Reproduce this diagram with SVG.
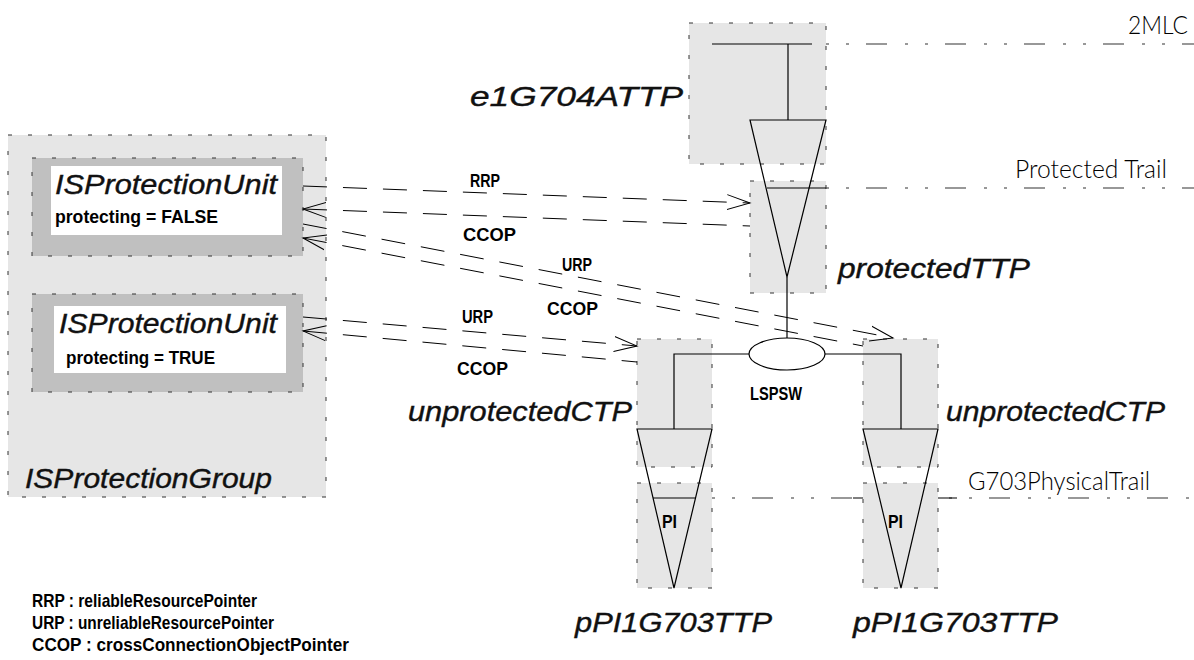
<svg xmlns="http://www.w3.org/2000/svg" width="1194" height="660" viewBox="0 0 1194 660">
<style>
.bg{fill:#e6e6e6;stroke:#333;stroke-width:1;stroke-dasharray:4 16}
.ub{fill:#c0c0c0;stroke:#333;stroke-width:1;stroke-dasharray:4 16}
.ln{fill:none;stroke:#000;stroke-width:1.2}
.trail{fill:none;stroke:#333;stroke-width:1.2;stroke-dasharray:3 17 3 17 21 18}
.con{fill:none;stroke:#000;stroke-width:1;stroke-dasharray:24 16}
.it{font-family:"Liberation Sans",Arial,sans-serif;font-style:italic;font-size:28px;fill:#111;stroke:#111;stroke-width:0.4}
.bd{font-family:"Liberation Sans",Arial,sans-serif;font-weight:bold;font-size:19px;fill:#000}
.th{font-family:Lato,"Liberation Sans",Arial,sans-serif;font-weight:300;font-size:26px;fill:#000}
</style>
<defs>
<marker id="arr" markerUnits="userSpaceOnUse" markerWidth="26" markerHeight="20" refX="23" refY="9" orient="auto-start-reverse">
<path d="M0,1.5 L23,9 L0,16.5" fill="none" stroke="#000" stroke-width="1" stroke-dasharray="none"/>
</marker>
</defs>
<rect width="1194" height="660" fill="#fff"/>

<g id="trails">
<line class="trail" x1="826" y1="44" x2="1194" y2="44"/>
<line class="trail" x1="826" y1="188" x2="1194" y2="188"/>
<line class="trail" x1="712" y1="498" x2="1194" y2="498"/>
<line class="ln" x1="853" y1="498" x2="957" y2="498"/>
<text class="th" x="1128" y="34" textLength="60" lengthAdjust="spacingAndGlyphs">2MLC</text>
<text class="th" x="1015" y="178" textLength="152" lengthAdjust="spacingAndGlyphs">Protected Trail</text>
<text class="th" x="968" y="490" textLength="182" lengthAdjust="spacingAndGlyphs">G703PhysicalTrail</text>
</g>

<g id="ISProtectionGroup">
<rect class="bg" x="8" y="135" width="318" height="362"/>
<text class="it" x="25" y="488" textLength="247" lengthAdjust="spacingAndGlyphs">ISProtectionGroup</text>
</g>

<g id="ISProtectionUnit1">
<rect class="ub" x="32" y="158" width="271" height="98"/>
<rect x="51" y="166" width="231" height="69" fill="#fff"/>
<text class="it" x="55" y="194" textLength="222" lengthAdjust="spacingAndGlyphs">ISProtectionUnit</text>
<text class="bd" x="55" y="223" textLength="163" lengthAdjust="spacingAndGlyphs">protecting = FALSE</text>
</g>

<g id="ISProtectionUnit2">
<rect class="ub" x="32" y="294" width="271" height="98"/>
<rect x="54" y="306" width="232" height="67" fill="#fff"/>
<text class="it" x="59" y="333" textLength="218" lengthAdjust="spacingAndGlyphs">ISProtectionUnit</text>
<text class="bd" x="66" y="364" textLength="149" lengthAdjust="spacingAndGlyphs">protecting = TRUE</text>
</g>

<g id="protectedTTP">
<rect class="bg" x="750" y="181" width="76" height="112"/>
<line class="ln" x1="767" y1="188" x2="826" y2="188"/>
<text class="it" x="838" y="278" textLength="192" lengthAdjust="spacingAndGlyphs">protectedTTP</text>
</g>

<g id="e1G704ATTP">
<rect class="bg" x="689" y="23" width="137" height="141"/>
<line class="ln" x1="712" y1="44" x2="812" y2="44"/>
<line class="ln" x1="788" y1="44" x2="788" y2="120"/>
<polygon class="ln" points="750,120 826,120 787,277"/>
<text class="it" x="470" y="106" font-size="30" textLength="213" lengthAdjust="spacingAndGlyphs">e1G704ATTP</text>
</g>

<g id="pPI1G703TTP-left">
<rect class="bg" x="637" y="483" width="75" height="105"/>
<line class="ln" x1="653" y1="498" x2="696" y2="498"/>
<text class="bd" x="662" y="528" font-size="20" textLength="15" lengthAdjust="spacingAndGlyphs">PI</text>
<text class="it" x="575" y="632" textLength="197" lengthAdjust="spacingAndGlyphs">pPI1G703TTP</text>
</g>

<g id="pPI1G703TTP-right">
<rect class="bg" x="863" y="483" width="75" height="105"/>
<text class="bd" x="888" y="528" font-size="20" textLength="15" lengthAdjust="spacingAndGlyphs">PI</text>
<text class="it" x="853" y="632" textLength="205" lengthAdjust="spacingAndGlyphs">pPI1G703TTP</text>
</g>

<g id="unprotectedCTP-left">
<rect class="bg" x="637" y="339" width="75" height="128"/>
<polygon class="ln" points="637,429 712,429 674,588"/>
<polyline class="ln" points="674,429 674,354 749,354"/>
<text class="it" x="408" y="421" textLength="224" lengthAdjust="spacingAndGlyphs">unprotectedCTP</text>
</g>

<g id="unprotectedCTP-right">
<rect class="bg" x="863" y="339" width="75" height="128"/>
<polygon class="ln" points="863,429 938,429 901,588"/>
<polyline class="ln" points="825,354 901,354 901,429"/>
<text class="it" x="946" y="421" textLength="219" lengthAdjust="spacingAndGlyphs">unprotectedCTP</text>
</g>

<g id="LSPSW">
<line class="ln" x1="787" y1="277" x2="787" y2="338"/>
<ellipse class="ln" cx="787" cy="354" rx="38" ry="16" fill="#fff"/>
<text class="bd" x="750" y="400" font-size="20" textLength="52" lengthAdjust="spacingAndGlyphs">LSPSW</text>
</g>

<g id="connectors">
<line class="con" x1="303" y1="186" x2="750" y2="203" marker-end="url(#arr)"/>
<line class="con" x1="303" y1="209" x2="750" y2="226" marker-start="url(#arr)"/>
<line class="con" x1="303" y1="224" x2="893" y2="338" marker-end="url(#arr)"/>
<line class="con" x1="303" y1="238" x2="863" y2="346" marker-start="url(#arr)"/>
<line class="con" x1="303" y1="317" x2="637" y2="346" marker-end="url(#arr)"/>
<line class="con" x1="303" y1="331" x2="637" y2="362" marker-start="url(#arr)"/>
<text class="bd" x="470" y="187" font-size="20" textLength="30" lengthAdjust="spacingAndGlyphs">RRP</text>
<text class="bd" x="463" y="241" font-size="20" textLength="53" lengthAdjust="spacingAndGlyphs">CCOP</text>
<text class="bd" x="562" y="271" font-size="20" textLength="30" lengthAdjust="spacingAndGlyphs">URP</text>
<text class="bd" x="547" y="315" font-size="20" textLength="51" lengthAdjust="spacingAndGlyphs">CCOP</text>
<text class="bd" x="462" y="323" font-size="20" textLength="31" lengthAdjust="spacingAndGlyphs">URP</text>
<text class="bd" x="457" y="375" font-size="20" textLength="51" lengthAdjust="spacingAndGlyphs">CCOP</text>
</g>

<g id="legend">
<text class="bd" x="32" y="607" textLength="225" lengthAdjust="spacingAndGlyphs">RRP : reliableResourcePointer</text>
<text class="bd" x="32" y="629" textLength="242" lengthAdjust="spacingAndGlyphs">URP : unreliableResourcePointer</text>
<text class="bd" x="32" y="651" textLength="317" lengthAdjust="spacingAndGlyphs">CCOP : crossConnectionObjectPointer</text>
</g>
</svg>
